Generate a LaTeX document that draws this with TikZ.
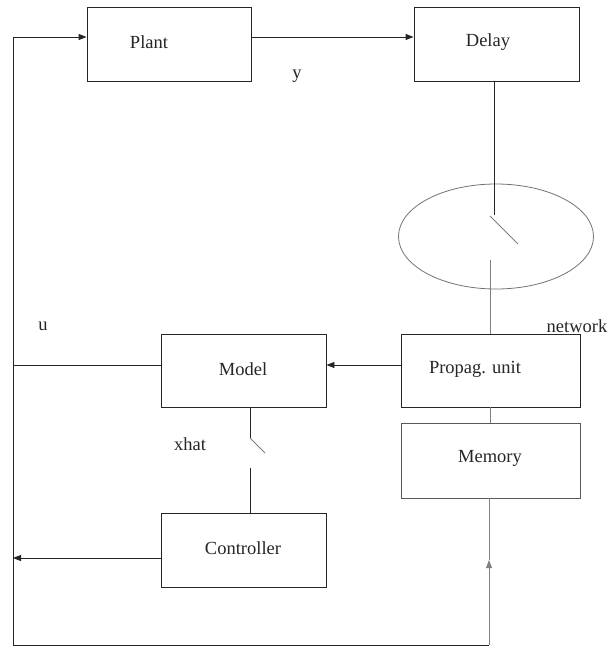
\documentclass[tikz,border=0pt]{standalone}
\usepackage{fontspec}
\setmainfont{Liberation Serif}
\usetikzlibrary{arrows.meta,shapes.geometric}
\begin{document}
\begin{tikzpicture}[x=1pt,y=-1pt,
  box/.style={draw=black!85,line width=0.9pt,rectangle,inner sep=0pt},
  lbl/.style={font=\fontsize{18.5}{20}\selectfont,inner sep=0pt,text=black!85},
  wire/.style={draw=black!85,line width=0.9pt},
  gwire/.style={draw=black!50,line width=0.8pt},
  arr/.style={-{Triangle[length=8pt,width=6pt]}}]
\useasboundingbox[fill=white] (0,0) rectangle (610,648);

% boxes
\node[box,minimum width=164pt,minimum height=74pt] (plant) at (169,44) {};
\node[box,minimum width=165pt,minimum height=74pt] (delay) at (496.5,44) {};
\node[box,minimum width=179pt,minimum height=73pt] (prop) at (490.5,370.5) {};
\node[box,draw=black!65,minimum width=179pt,minimum height=75pt] (mem) at (490.5,460.5) {};
\node[box,minimum width=165pt,minimum height=73pt] (model) at (243.5,370.5) {};
\node[box,minimum width=165pt,minimum height=74pt] (ctrl) at (243.5,550) {};
\node[ellipse,draw=black!55,line width=0.8pt,minimum width=195pt,minimum height=105pt,inner sep=0pt] (net) at (496,236.5) {};

% texts
\node[lbl] (tplant) at (149,42) {Plant};
\node[lbl] (tdelay) at (488,42) {Delay};
\node[lbl] (tprop) at (475,369) {Propag. unit};
\node[lbl] (tmem) at (490,458) {Memory};
\node[lbl] (tmodel) at (243,369) {Model};
\node[lbl] (tctrl) at (243,548) {Controller};
\node[lbl] (ty) at (297,76) {y};
\node[lbl] (tu) at (43,326) {u};
\node[lbl] (txhat) at (190,444) {xhat};
\node[lbl] (tnet) at (577,326) {network};

% coordinates
\coordinate (tl) at (13,37);
\coordinate (bl) at (13,645);
\coordinate (br) at (489,645);
\coordinate (up) at (489,560);
\coordinate (my) at (0,365);
\coordinate (cy) at (0,558);
\coordinate (s1) at (494,215);
\coordinate (s2) at (490,216);
\coordinate (s3) at (518,244);
\coordinate (s4) at (490,260);
\coordinate (m1) at (250,438);
\coordinate (m2) at (265,453);
\coordinate (m3) at (250,468);

% connectors
\draw[wire,arr] (bl) -- (tl) -- (tl -| plant.west);
\draw[wire,arr] (tl -| plant.east) -- (tl -| delay.west);
\draw[wire] (s1 |- delay.south) -- (s1);
\draw[gwire] (s2) -- (s3);
\draw[gwire] (s4) -- (s4 |- prop.north);
\draw[gwire] (s4 |- prop.south) -- (s4 |- mem.north);
\draw[wire,arr] (my -| prop.west) -- (my -| model.east);
\draw[wire] (my -| model.west) -- (my -| tl);
\draw[wire] (m1 |- model.south) -- (m1);
\draw[gwire] (m1) -- (m2);
\draw[wire] (m3) -- (m3 |- ctrl.north);
\draw[wire,arr] (cy -| ctrl.west) -- (cy -| tl);
\draw[wire] (bl) -- (br);
\draw[gwire,arr] (br) -- (up);
\draw[gwire] (up) -- (br |- mem.south);
\end{tikzpicture}
\end{document}
